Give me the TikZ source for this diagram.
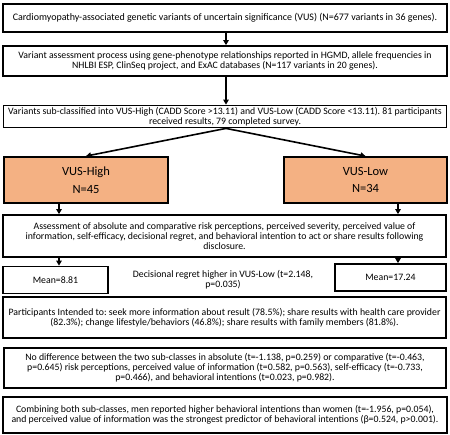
\documentclass[tikz,border=0pt]{standalone}
\usepackage{fontspec}
\setmainfont{Carlito}
\usetikzlibrary{arrows.meta,calc}
\definecolor{vusorange}{HTML}{F4B183}
\begin{document}
\frenchspacing
\begin{tikzpicture}[x=1pt,y=-1pt,
  box/.style={draw=black,line width=1.8pt,align=center,inner sep=0pt,font=\fontsize{9.8}{10.2}\selectfont},
  grp/.style={draw=black,line width=1.8pt,fill=vusorange,align=center,inner sep=0pt,font=\fontsize{12.5}{17.5}\selectfont},
  arr/.style={line width=1.6pt,-{Triangle[length=5pt,width=5.5pt]}},
  txt/.style={align=center,inner sep=0pt,font=\fontsize{9.8}{10.2}\selectfont}]
\useasboundingbox (0,0) rectangle (450,435);
\node[box,minimum width=444pt,minimum height=28pt,font=\fontsize{10}{11}\selectfont] (b1) at (225,18) {Cardiomyopathy-associated genetic variants of uncertain significance (VUS) (N=677 variants in 36 genes).};
\node[box,minimum width=444pt,minimum height=30pt] (b2) at (225,61) {Variant assessment process using gene-phenotype relationships reported in HGMD, allele frequencies in\\ NHLBI ESP, ClinSeq project, and ExAC databases (N=117 variants in 20 genes).};
\node[box,minimum width=443pt,minimum height=22pt] (b3) at (225,116.5) {Variants sub-classified into VUS-High (CADD Score >13.11) and VUS-Low (CADD Score <13.11). 81 participants\\ received results, 79 completed survey.};
\node[grp,minimum width=164pt,minimum height=46pt] (high) at (86,180) {VUS-High\\N=45};
\node[grp,minimum width=163pt,minimum height=46pt] (low) at (365.5,180) {VUS-Low\\N=34};
\node[box,minimum width=443pt,minimum height=42pt] (assess) at (224.5,236) {Assessment of absolute and comparative risk perceptions, perceived severity, perceived value of\\ information, self-efficacy, decisional regret, and behavioral intention to act or share results following\\ disclosure.};
\node[box,minimum width=105pt,minimum height=27pt] (m1) at (55.5,280) {Mean=8.81};
\node[txt] (dr) at (223,280) {Decisional regret higher in VUS-Low (t=2.148,\\ p=0.035)};
\node[box,minimum width=111pt,minimum height=27pt] (m2) at (390.5,277.5) {Mean=17.24};
\node[box,minimum width=443pt,minimum height=41pt] (part) at (224.5,317.5) {Participants Intended to: seek more information about result (78.5\%); share results with health care provider\\ (82.3\%); change lifestyle/behaviors (46.8\%); share results with family members (81.8\%).};
\node[box,minimum width=442pt,minimum height=40pt] (nodiff) at (225,368) {No difference between the two sub-classes in absolute (t=-1.138, p=0.259) or comparative (t=-0.463,\\ p=0.645) risk perceptions, perceived value of information (t=0.582, p=0.563), self-efficacy (t=-0.733,\\ p=0.466), and behavioral intentions (t=0.023, p=0.982).};
\node[box,minimum width=444pt,minimum height=36pt] (comb) at (225,415) {Combining both sub-classes, men reported higher behavioral intentions than women (t=-1.956, p=0.054),\\ and perceived value of information was the strongest predictor of behavioral intentions (β=0.524, p>0.001).};
\coordinate (cT) at (226,0);
\coordinate (cL) at (59,0);
\coordinate (cR) at (398,0);
\draw[arr] (cT |- b1.south) -- (cT |- b2.north);
\draw[arr] (cT |- b2.south) -- (cT |- b3.north);
\draw[arr] (cT |- b3.south) -- (high.north);
\draw[arr] (cT |- b3.south) -- (low.north);
\draw[arr] (cL |- high.south) -- (cL |- assess.north);
\draw[arr] (cR |- low.south) -- (cR |- assess.north);
\draw[arr] (cL |- assess.south) -- (cL |- m1.north);
\draw[arr] (cR |- assess.south) -- (cR |- m2.north);
\end{tikzpicture}
\end{document}
